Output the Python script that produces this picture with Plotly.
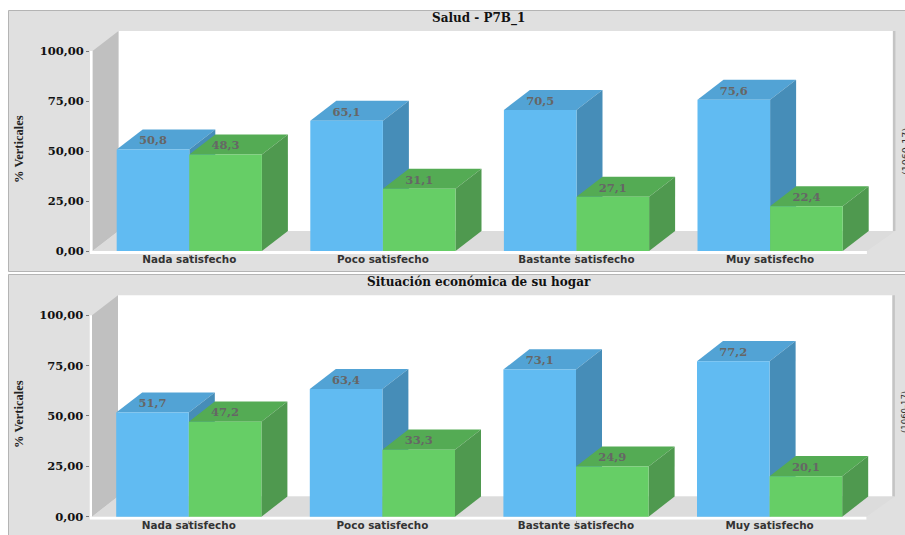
import plotly.graph_objects as go

W, H = 905, 535
categories = ["Nada satisfecho", "Poco satisfecho", "Bastante satisfecho", "Muy satisfecho"]
salud_blue = [50.8, 65.1, 70.5, 75.6]
salud_green = [48.3, 31.1, 27.1, 22.4]
hogar_blue = [51.7, 63.4, 73.1, 77.2]
hogar_green = [47.2, 33.3, 24.9, 20.1]
y_ticks = [0, 25, 50, 75, 100]
y_tick_labels = ["0,00", "25,00", "50,00", "75,00", "100,00"]
titles = ["Salud - P7B_1", "Situación económica de su hogar"]
y_title = "% Verticales"
clipped_right = "(1060-17)"

BLUE = ("#61bbf2", "#52a3d5", "#468db8")
GREEN = ("#66ce66", "#54ab54", "#4f994f")
SERIF = "DejaVu Serif"
SANS = "DejaVu Sans"

CAT_PX = 193.6
DX = 26 / CAT_PX       # depth, category units
DY = 10                # depth, value units
BAR = 72.6 / CAT_PX    # bar width, category units


def poly(xs, ys, color, xr, yr):
    path = "M" + "L".join(f"{a:.4f},{b:.4f}" for a, b in zip(xs, ys)) + "Z"
    return dict(type="path", path=path, xref=xr, yref=yr, fillcolor=color,
                line=dict(width=0), layer="below")


def rect_px(x0, y0, x1, y1, color, line=None):
    return dict(type="rect", xref="paper", yref="paper", x0=x0 / W, x1=x1 / W,
                y0=1 - y0 / H, y1=1 - y1 / H, fillcolor=color,
                line=dict(width=1, color=line) if line else dict(width=0), layer="below")


fig = go.Figure()
panels = [
    dict(sfx="", blue=salud_blue, green=salud_green, y0=251.0, scale=2.0, x0=92.5,
         top=10.5, bottom=271.5, title_y=19, axis_title_y=149, clip_y=152, clip_size=9.5),
    dict(sfx="2", blue=hogar_blue, green=hogar_green, y0=516.7, scale=2.014, x0=92.0,
         top=274.5, bottom=540, title_y=282, axis_title_y=414, clip_y=412, clip_size=8.5),
]
shapes, annotations = [], []
for p in panels:
    xr, yr = "x" + p["sfx"], "y" + p["sfx"]
    left_px, right_px = p["x0"] - 2.5, 898.0
    bot_px, top_px = p["y0"] + 3, p["y0"] - 111 * p["scale"]
    xmin = -0.5 - 2.5 / CAT_PX
    xmax = -0.5 + (right_px - p["x0"]) / CAT_PX
    ymin = -3 / p["scale"]

    fig.update_layout({
        f"xaxis{p['sfx']}": dict(
            domain=[left_px / W, right_px / W], range=[xmin, xmax], anchor=yr, automargin=False,
            tickmode="array", tickvals=list(range(len(categories))), ticktext=categories,
            tickfont=dict(family=SANS, size=10.4, color="#333333", weight="bold"), ticks="outside",
            ticklen=3, tickcolor="#999999", ticklabelstandoff=-7,
            showgrid=False, zeroline=False, showline=False),
        f"yaxis{p['sfx']}": dict(
            domain=[1 - bot_px / H, 1 - top_px / H], range=[ymin, 111], anchor=xr, automargin=False,
            tickmode="array", tickvals=y_ticks, ticktext=y_tick_labels,
            tickfont=dict(family=SERIF, size=11.5, color="#111111", weight="bold"), ticks="outside",
            ticklen=3, tickcolor="#777777", showgrid=False, zeroline=False, showline=False),
    })

    # panel
    shapes.append(rect_px(8.5, p["top"], 912, p["bottom"], "#e0e0e0", "#b4b4b4"))
    # room: back wall, left wall, right wall, floor
    n = len(categories)
    xl, xh = -0.5, n - 0.5
    shapes.append(poly([xl + DX, xh + DX, xh + DX, xl + DX], [DY, DY, 100 + DY, 100 + DY], "#ffffff", xr, yr))
    shapes.append(poly([xh + DX, xh + DX + 2.5 / CAT_PX, xh + DX + 2.5 / CAT_PX, xh + DX],
                       [DY, DY, 100 + DY, 100 + DY], "#c4c4c4", xr, yr))
    shapes.append(poly([xl, xl + DX, xl + DX, xl], [0, DY, 100 + DY, 100], "#c0c0c0", xr, yr))
    shapes.append(poly([xl, xl + DX, xh + DX + 2.5 / CAT_PX, xh], [0, DY, DY, 0], "#dcdcdc", xr, yr))
    # white axis strips
    shapes.append(poly([xmin, xh, xh, xmin], [0, 0, ymin, ymin], "#ffffff", xr, yr))
    shapes.append(poly([xmin, xl, xl, xmin], [0, 0, 100, 100], "#ffffff", xr, yr))

    # 3-D faces of the bars, computed from the values (fronts are real bars on top)
    for i in range(n):
        for vals, col, x_a in ((p["blue"], BLUE, i - BAR), (p["green"], GREEN, i)):
            v = vals[i]
            x_b = x_a + BAR
            shapes.append(poly([x_a, x_b, x_b + DX, x_a + DX], [v, v, v + DY, v + DY], col[1], xr, yr))
            shapes.append(poly([x_b, x_b + DX, x_b + DX, x_b], [0, DY, v + DY, v], col[2], xr, yr))

    xs = list(range(n))
    for name, vals, col in (("Serie 1", p["blue"], BLUE), ("Serie 2", p["green"], GREEN)):
        fig.add_trace(go.Bar(x=xs, y=vals, name=name, marker=dict(color=col[0], line=dict(width=0)),
                             xaxis=xr, yaxis=yr, showlegend=False))
    for vals, off in ((p["blue"], -BAR / 2), (p["green"], BAR / 2)):
        fig.add_trace(go.Scatter(
            x=[x + off for x in xs], y=[v + 4 for v in vals], mode="text",
            text=[f"{v:.1f}".replace(".", ",") for v in vals],
            textfont=dict(family=SERIF, size=11.5, color="#666666", weight="bold"),
            textposition="middle center", xaxis=xr, yaxis=yr, showlegend=False))

    title = titles[panels.index(p)]
    annotations.append(dict(text=f"<b>{title}</b>", xref="paper", yref="paper",
                            x=479 / W, y=1 - p["title_y"] / H,
                            showarrow=False, xanchor="center", yanchor="middle",
                            font=dict(family=SERIF, size=12, color="#111111")))
    annotations.append(dict(text=f"<b>{y_title}</b>", xref="paper", yref="paper",
                            x=19 / W, y=1 - p["axis_title_y"] / H, textangle=-90,
                            showarrow=False, xanchor="center", yanchor="middle",
                            font=dict(family="Liberation Serif", size=12.5, color="#222222")))
    annotations.append(dict(text=clipped_right, xref="paper", yref="paper",
                            x=905 / W, y=1 - p["clip_y"] / H, textangle=-90,
                            showarrow=False, xanchor="center", yanchor="middle",
                            font=dict(family=SANS, size=p["clip_size"], color="#333333")))

fig.update_layout(
    width=W, height=H, margin=dict(l=0, r=0, t=0, b=0), autosize=False,
    paper_bgcolor="#ffffff", plot_bgcolor="rgba(0,0,0,0)",
    barmode="group", bargap=1 - 2 * BAR, bargroupgap=0,
    shapes=shapes, annotations=annotations, showlegend=False,
)
fig.write_html("out.html", config=dict(displayModeBar=False),
               post_script="var s='margin:0;height:535px;overflow:hidden';"
                           "document.body.style.cssText=s;document.documentElement.style.cssText=s;")
